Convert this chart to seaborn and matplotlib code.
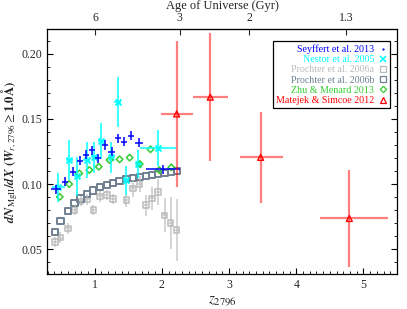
import numpy as np
import pandas as pd
import matplotlib
matplotlib.use('Agg')
import matplotlib.pyplot as plt
from matplotlib.lines import Line2D
from matplotlib.ticker import MultipleLocator, FormatStrFormatter
import seaborn as sns

# Seyffert et al. 2013
sey_z = [0.43, 0.56, 0.68, 0.78, 0.87, 0.96, 1.05, 1.16, 1.25, 1.35, 1.44, 1.54, 1.66, 2.02]
sey_dndx = [0.0959, 0.1018, 0.1095, 0.118, 0.1225, 0.126, 0.1198, 0.130, 0.1248, 0.135, 0.1325, 0.137, 0.1318, 0.1113]
sey_zerr = [0.075, 0.045, 0.045, 0.045, 0.045, 0.045, 0.045, 0.045, 0.045, 0.045, 0.045, 0.045, 0.06, 0.25]
sey_err = [0.0035] * 14

# Nestor et al. 2005
nes_z = [0.46, 0.62, 0.74, 0.88, 0.995, 1.10, 1.245, 1.34, 1.465, 1.65, 1.94]
nes_dndx = [0.0975, 0.1185, 0.106, 0.1185, 0.1205, 0.133, 0.1205, 0.163, 0.103, 0.1154, 0.1275]
nes_zerr = [0.10, 0.05, 0.05, 0.05, 0.05, 0.05, 0.05, 0.05, 0.05, 0.05, 0.27]
nes_err = [0.011, 0.015, 0.015, 0.014, 0.012, 0.014, 0.012, 0.019, 0.011, 0.011, 0.014]

# Prochter et al. 2006a
pa_z = [0.41, 0.49, 0.60, 0.70, 0.79, 0.89, 0.98, 1.08, 1.18, 1.27, 1.47, 1.57, 1.67, 1.76, 1.85, 1.94, 2.04, 2.13, 2.22]
pa_dndx = [0.0556, 0.059, 0.066, 0.080, 0.0868, 0.0883, 0.080, 0.0905, 0.0915, 0.0885, 0.0877, 0.0967, 0.100, 0.0838, 0.089, 0.094, 0.076, 0.070, 0.0646]
pa_err = [0.004, 0.004, 0.004, 0.004, 0.004, 0.004, 0.004, 0.004, 0.004, 0.004, 0.005, 0.0064, 0.006, 0.008, 0.009, 0.010, 0.013, 0.020, 0.024]

# Prochter et al. 2006b
pb_z = [0.41, 0.49, 0.60, 0.70, 0.79, 0.89, 0.98, 1.08, 1.18, 1.27, 1.37, 1.47, 1.57, 1.67, 1.76, 1.85, 1.94, 2.04, 2.13, 2.22]
pb_dndx = [0.0633, 0.0718, 0.0792, 0.0852, 0.089, 0.0923, 0.0951, 0.0975, 0.0992, 0.101, 0.1023, 0.1038, 0.1048, 0.1056, 0.1062, 0.1069, 0.1077, 0.1087, 0.1095, 0.110]

# Zhu & Menard 2013
zm_z = [0.48, 0.62, 0.77, 0.92, 1.06, 1.22, 1.37, 1.52, 1.67, 1.83, 1.96, 2.14]
zm_dndx = [0.0902, 0.100, 0.1082, 0.1108, 0.1133, 0.1185, 0.119, 0.1203, 0.1154, 0.1267, 0.1108, 0.1128]

# Matejek & Simcoe 2012
ms_z = [2.22, 2.72, 3.47, 4.79]
ms_dndx = [0.1538, 0.1667, 0.1205, 0.0736]
ms_zlo = [0.24, 0.26, 0.31, 0.44]
ms_zhi = [0.24, 0.27, 0.34, 0.57]
ms_err = [0.056, 0.049, 0.035, 0.037]

age_labels = ['6', '3', '2', '1.3']
age_gyr = [6.0, 3.0, 2.0, 1.3]


def z_at_age(t, h0=70.0, om=0.27):
    ol = 1.0 - om
    th = 977.8 / h0
    pref = 2.0 * th / (3.0 * np.sqrt(ol))
    x = np.sinh(np.asarray(t) / pref) / np.sqrt(ol / om)
    return x ** (-2.0 / 3.0) - 1.0


sns.set_style('ticks')
plt.rcParams['font.family'] = ['Liberation Serif', 'DejaVu Serif']
plt.rcParams['mathtext.fontset'] = 'stix'
plt.rcParams['xtick.direction'] = 'in'
plt.rcParams['ytick.direction'] = 'in'

fig = plt.figure(figsize=(4.07, 3.09), dpi=100)
ax = fig.add_axes([0.1155, 0.1133, 0.86, 0.7928])

c_sey, c_nes, c_pa, c_pb, c_zm, c_ms = 'blue', 'cyan', '#bbbbbb', 'slategray', 'limegreen', 'red'

ax.errorbar(pa_z, pa_dndx, yerr=pa_err, xerr=0.03, fmt='none', ecolor=c_pa, elinewidth=1.1, alpha=0.8)
sns.scatterplot(x=pa_z, y=pa_dndx, ax=ax, marker='s', s=16, facecolors='none', edgecolor=c_pa, linewidth=1.1)

sns.scatterplot(x=pb_z, y=pb_dndx, ax=ax, marker='s', s=20, facecolors='none', edgecolor=c_pb, linewidth=1.4)

ax.errorbar(nes_z, nes_dndx, yerr=nes_err, xerr=nes_zerr, fmt='none', ecolor=c_nes, elinewidth=1.5, alpha=0.75)
sns.scatterplot(x=nes_z, y=nes_dndx, ax=ax, marker='x', s=18, color=c_nes, linewidth=1.4)

ax.errorbar(sey_z, sey_dndx, yerr=sey_err, xerr=sey_zerr, fmt='none', ecolor=c_sey, elinewidth=1.1)

sns.scatterplot(x=zm_z, y=zm_dndx, ax=ax, marker='D', s=11, facecolors='none', edgecolor=c_zm, linewidth=1.1)

ax.errorbar(ms_z, ms_dndx, yerr=ms_err, xerr=[ms_zlo, ms_zhi], fmt='none', ecolor=c_ms, elinewidth=1.6, alpha=0.5)
sns.scatterplot(x=ms_z, y=ms_dndx, ax=ax, marker='^', s=18, facecolors='none', edgecolor=c_ms, linewidth=1.0)

ax.set_xlim(0.29, 5.5)
ax.set_ylim(0.031, 0.219)
ax.xaxis.set_major_locator(MultipleLocator(1))
ax.xaxis.set_minor_locator(MultipleLocator(0.1))
ax.yaxis.set_major_locator(MultipleLocator(0.05))
ax.yaxis.set_minor_locator(MultipleLocator(0.01))
ax.yaxis.set_major_formatter(FormatStrFormatter('%.2f'))
ax.tick_params(which='major', length=4, width=0.8, labelsize=8.5, right=True, color='black')
ax.tick_params(which='minor', length=2, width=0.6, right=True, color='black')
ax.tick_params(axis='x', which='both', top=False)
for sp in ax.spines.values():
    sp.set_linewidth(0.9)
    sp.set_color('black')

top = ax.secondary_xaxis('top')
top.set_xticks(z_at_age(age_gyr), age_labels)
top.tick_params(length=4, width=0.8, labelsize=8.5, direction='in')
top.set_xlabel('Age of Universe (Gyr)', fontsize=9, labelpad=2)

ax.set_xlabel(r'$z_{2796}$', fontsize=11, labelpad=3)
ax.set_ylabel(r'$\mathbfit{dN}_{\mathrm{MgII}}\mathbf{/}\mathbfit{dX}\ \mathbf{(}\mathbfit{W}_{r,2796}\geq\mathbf{1.0Å)}$',
              fontsize=9.3, labelpad=1)

handles = [
    Line2D([], [], ls='none', marker='.', ms=1.2, color=c_sey),
    Line2D([], [], ls='none', marker='x', ms=4.5, color=c_nes, mew=1.1),
    Line2D([], [], ls='none', marker='s', ms=4.5, mfc='none', mec=c_pa, mew=0.9),
    Line2D([], [], ls='none', marker='s', ms=4.5, mfc='none', mec=c_pb, mew=0.9),
    Line2D([], [], ls='none', marker='D', ms=3.2, mfc='none', mec=c_zm, mew=0.9),
    Line2D([], [], ls='none', marker='^', ms=4.5, mfc='none', mec=c_ms, mew=0.9),
]
labels = ['Seyffert et al. 2013', 'Nestor et al. 2005', 'Prochter et al. 2006a',
          'Prochter et al. 2006b', 'Zhu & Menard 2013', 'Matejek & Simcoe 2012']
leg = ax.legend(handles, labels, loc='upper right', markerfirst=False, fontsize=7.2,
                frameon=True, fancybox=False, edgecolor='black', framealpha=1,
                handlelength=0.8, handletextpad=0.5, labelspacing=0.12,
                borderpad=0.3, bbox_to_anchor=(0.995, 0.97))
leg.get_frame().set_linewidth(0.9)
for txt, col in zip(leg.get_texts(), [c_sey, c_nes, c_pa, c_pb, c_zm, c_ms]):
    txt.set_color(col)

fig.savefig('out.png', dpi=100)
